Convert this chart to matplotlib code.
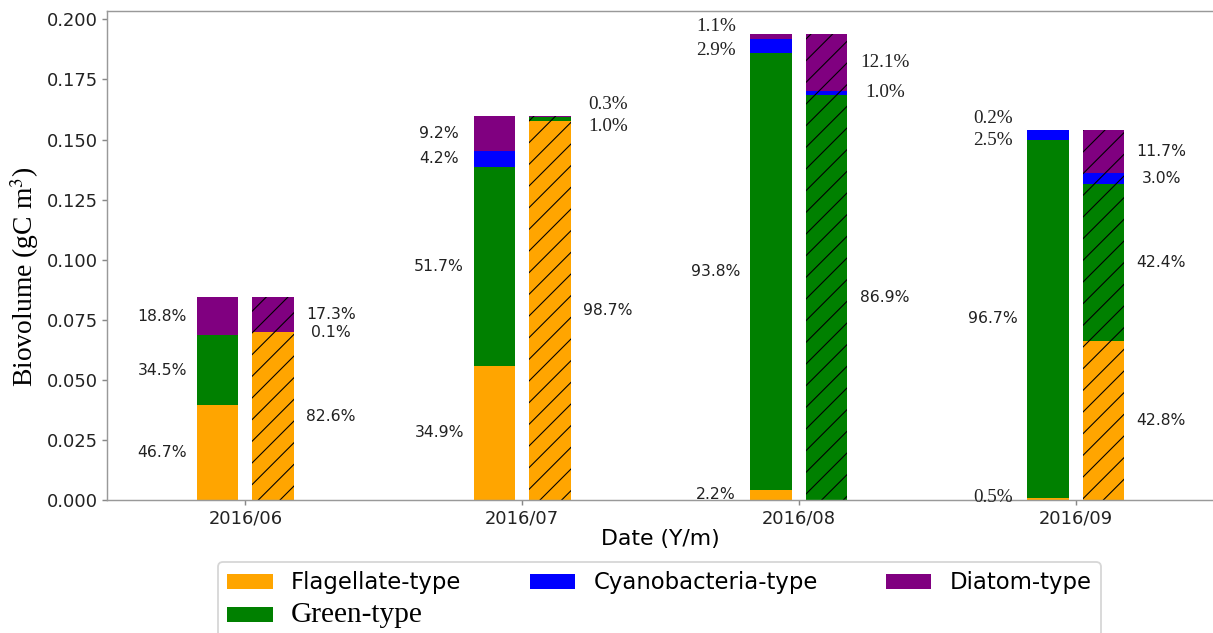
import numpy as np
import matplotlib
matplotlib.use('Agg')
import matplotlib.pyplot as plt
from matplotlib.patches import Patch

# Dates and total biovolume per date (gC m3), same for both bars of a pair
dates = ['2016/06', '2016/07', '2016/08', '2016/09']
totals = [0.0844, 0.160, 0.1938, 0.1543]

# Left (plain) bars, percent of total
flag_a = [46.7, 34.9, 2.2, 0.5]
green_a = [34.5, 51.7, 93.8, 96.7]
cyano_a = [0.0, 4.2, 2.9, 2.5]
diatom_a = [18.8, 9.2, 1.1, 0.2]

# Right (hatched) bars, percent of total
flag_b = [82.6, 98.7, 0.0, 42.8]
green_b = [0.0, 1.0, 86.9, 42.4]
cyano_b = [0.1, 0.0, 1.0, 3.0]
diatom_b = [17.3, 0.3, 12.1, 11.7]

types = ['Flagellate-type', 'Green-type', 'Cyanobacteria-type', 'Diatom-type']
colors = ['orange', 'green', 'blue', 'purple']

# labels that were set in serif and nudged (pixels) in the original
serif_labels = {(1, 1, 1), (1, 1, 3), (2, 0, 2), (2, 0, 3), (2, 1, 2), (2, 1, 3),
                (3, 0, 0), (3, 0, 2), (3, 0, 3)}
nudges = {(1, 1, 1): -8, (1, 1, 3): 12, (2, 0, 3): 10, (2, 0, 2): -4,
          (3, 0, 3): 11, (3, 0, 2): -6, (3, 0, 0): 2}

plt.rcParams['hatch.linewidth'] = 0.6
plt.rcParams['mathtext.fontset'] = 'stix'

fig = plt.figure(figsize=(1213 / 130, 633 / 130), dpi=130)
ax = fig.add_axes([107 / 1213, 1 - 500 / 633, 1107 / 1213, 489 / 633])

x = np.arange(len(dates))
width = 0.15
offset = 0.1

for b, pcts in enumerate([[flag_a, green_a, cyano_a, diatom_a],
                          [flag_b, green_b, cyano_b, diatom_b]]):
    xpos = x - offset if b == 0 else x + offset
    bottom = np.zeros(len(dates))
    for k, p in enumerate(pcts):
        h = np.array(totals) * np.array(p) / 100
        ax.bar(xpos, h, width, bottom=bottom, color=colors[k], linewidth=0,
               hatch='//' if b == 1 else None)
        for i in range(len(dates)):
            if p[i] <= 0:
                continue
            lx = x[i] - 0.3 if b == 0 else x[i] + 0.31
            ymid = bottom[i] + h[i] / 2
            key = (i, b, k)
            if key in serif_labels:
                fam, fs = 'Liberation Serif', 10.6
            else:
                fam, fs = 'DejaVu Sans', 8.7
            ax.annotate(f'{p[i]:.1f}%', xy=(lx, ymid), xytext=(0, nudges.get(key, 0)),
                        textcoords='offset pixels', ha='center', va='center',
                        fontsize=fs, family=fam, color='#222222')
        bottom += h

ax.set_xlim(-0.5, 3.5)
ax.set_xticks(x)
ax.set_xticklabels(dates)
ax.tick_params(labelsize=9.9, colors='#888888', labelcolor='#222222', length=3, pad=2)
ax.set_ylabel('Biovolume (gC m$^3$)', family='Liberation Serif', fontsize=15.3)
ax.yaxis.set_label_coords(-0.0596, 0.456)
ax.set_xlabel('Date (Y/m)', fontsize=12.2, labelpad=1)
for s in ax.spines.values():
    s.set_color('#999999')

handles = [Patch(facecolor=c, label=t) for c, t in zip(colors, types)]
leg = fig.legend(handles=handles, ncol=3, loc='upper center', fontsize=12.6,
                 bbox_to_anchor=(659.5 / 1213, 1 - 551 / 633), columnspacing=3.0,
                 labelspacing=0.35)
leg.get_texts()[1].set_family('Liberation Serif')
leg.get_texts()[1].set_fontsize(16.3)

fig.savefig('out.png', dpi=130)
